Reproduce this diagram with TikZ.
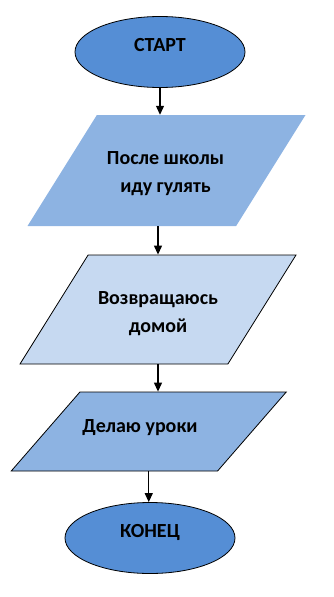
\documentclass[tikz,border=0pt]{standalone}
\usepackage{fontspec}
\setmainfont{Carlito}
\usepackage{tikz}
\definecolor{flowdark}{RGB}{85,142,213}
\definecolor{flowmid}{RGB}{141,179,226}
\definecolor{flowlight}{RGB}{198,217,241}
\usetikzlibrary{shapes.geometric,arrows.meta}

\begin{document}
\begin{tikzpicture}[x=1pt,y=-1pt,
	terminal/.style={ellipse,draw=black,line width=0.8pt,fill=flowdark,minimum width=170pt,minimum height=71pt,inner sep=0pt,font=\fontsize{20}{28}\selectfont\bfseries,text height=13pt,text depth=14pt},
	iobox/.style={trapezium,trapezium stretches body,inner sep=0pt,text depth=0pt},
	iotext/.style={align=center,inner sep=0pt,font=\fontsize{20}{28}\selectfont\bfseries},
	arr/.style={-{Triangle[length=9pt,width=8pt]},line width=1.2pt}]
						
						\useasboundingbox (0,0) rectangle (333,597);
						
						\node[terminal] (start) at (160,52) {СТАРТ};
						
						% parallelograms: height as text height, so the angle holds
						\node[iobox,fill=flowmid,trapezium left angle=58,trapezium right angle=122,text height=111pt,minimum width=278pt] (walk) at (166.5,170.5) {};
						\node[iotext] (walk-text) at (165.5,174) {После школы\\ иду гулять};
						
						\node[iobox,draw=black,line width=0.8pt,fill=flowlight,trapezium left angle=58,trapezium right angle=122,text height=109pt,minimum width=276pt] (home) at (158,309.5) {};
						\node[iotext] (home-text) at (158,314) {Возвращаюсь\\ домой};
						
						\node[iobox,draw=black,line width=0.8pt,fill=flowmid,trapezium left angle=49,trapezium right angle=131,text height=79pt,minimum width=275pt] (work) at (148.75,431.5) {};
						\node[iotext] (work-text) at (140,428) {Делаю уроки};
						
						\node[terminal] (stop) at (150,538) {КОНЕЦ};
						
						\draw[arr] (start) -- (start |- walk.north);
						\draw[arr] (walk.south -| home) -- (home.north);
						\draw[arr] (home.south) -- (home.south |- work.north);
						\draw[arr] (work.south) -- (work.south |- stop.north);
						
					\end{tikzpicture}
\end{document}
